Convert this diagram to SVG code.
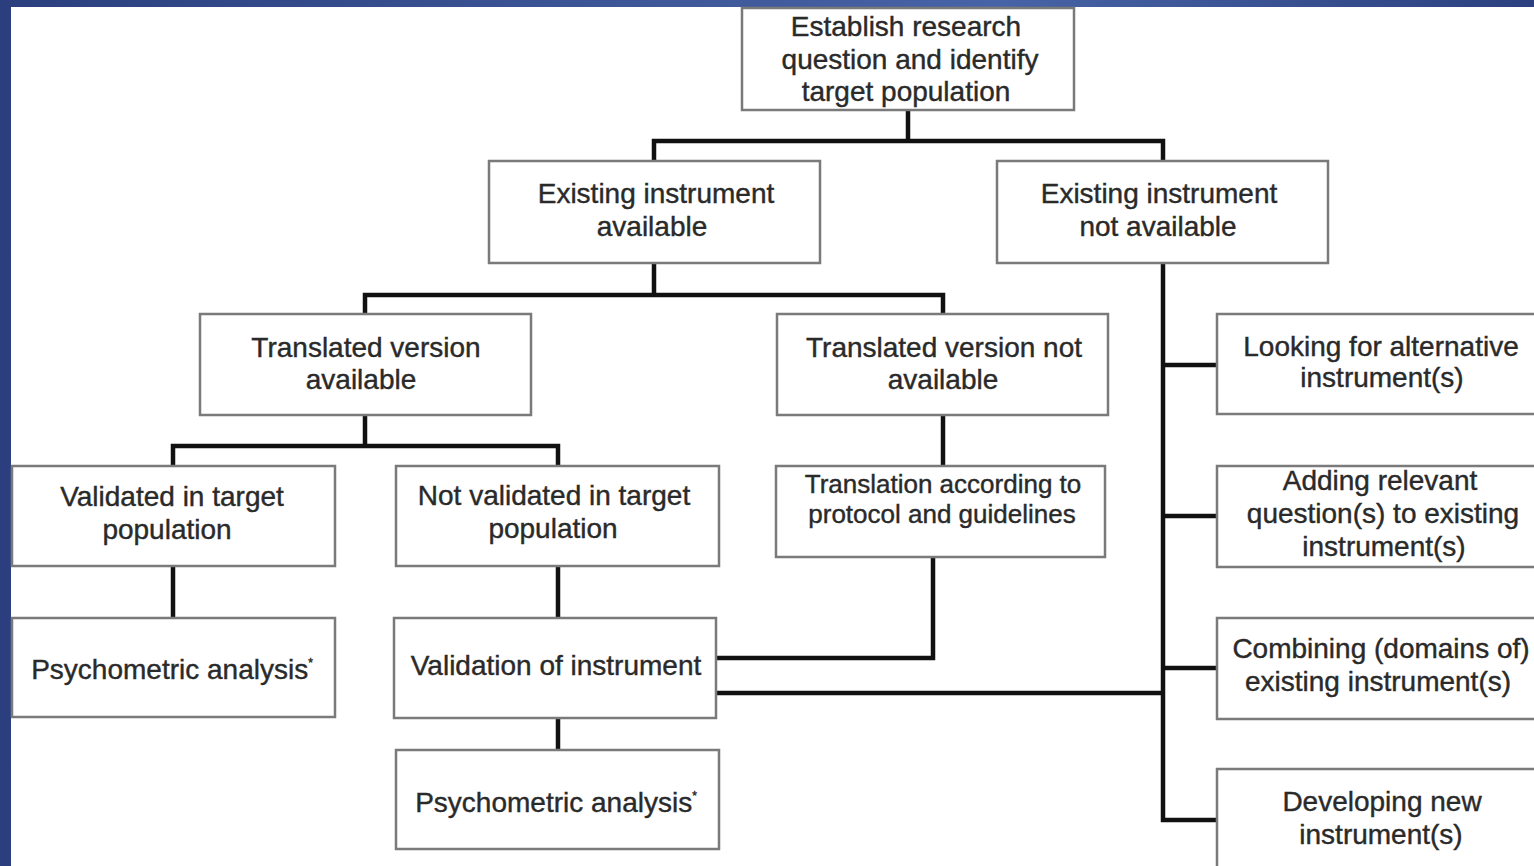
<svg xmlns="http://www.w3.org/2000/svg" width="1534" height="866" viewBox="0 0 1534 866">
<defs>
<linearGradient id="bg" x1="0" y1="0" x2="1" y2="0">
<stop offset="0" stop-color="#2b3f7e"/>
<stop offset="0.65" stop-color="#4764a6"/>
<stop offset="1" stop-color="#2c407f"/>
</linearGradient>
<style>
.box{fill:#fff;stroke:#7a7a7a;stroke-width:2.5}
.t{font-family:"Liberation Sans",Arial,sans-serif;font-size:28px;fill:#2a2a2a;stroke:#2a2a2a;stroke-width:0.4;text-anchor:middle}
.s{font-size:26px}
.c{fill:none;stroke:#111;stroke-width:4.5;stroke-linejoin:miter}
</style>
</defs>
<rect x="0" y="0" width="1534" height="866" fill="url(#bg)"/>
<rect x="11" y="7" width="1523" height="859" fill="#fff"/>
<g id="connectors">
<path class="c" d="M908 110V141M654 161V141H1163V161"/>
<path class="c" d="M654 263V295M365 314V295H943V314"/>
<path class="c" d="M365 415V446M173 466V446H558V466"/>
<path class="c" d="M943 415V466"/>
<path class="c" d="M173 566V618M558 566V618M558 718V750"/>
<path class="c" d="M933 557V658H716"/>
<path class="c" d="M1163 263V820H1217M1163 365H1217M1163 516H1217M1163 668H1217M716 693H1163"/>
</g>
<g id="n-top"><rect class="box" x="742" y="8" width="332" height="102"/>
<text class="t" x="906" y="36">Establish research</text><text class="t" x="910" y="69">question and identify</text><text class="t" x="906" y="101">target population</text></g>
<g id="n-exist"><rect class="box" x="489" y="161" width="331" height="102"/>
<text class="t" x="656" y="203">Existing instrument</text><text class="t" x="652" y="236">available</text></g>
<g id="n-notexist"><rect class="box" x="997" y="161" width="331" height="102"/>
<text class="t" x="1159" y="203">Existing instrument</text><text class="t" x="1158" y="236">not available</text></g>
<g id="n-trans"><rect class="box" x="200" y="314" width="331" height="101"/>
<text class="t" x="366" y="357">Translated version</text><text class="t" x="361" y="389">available</text></g>
<g id="n-notrans"><rect class="box" x="777" y="314" width="331" height="101"/>
<text class="t" x="944" y="357">Translated version not</text><text class="t" x="943" y="389">available</text></g>
<g id="n-valid"><rect class="box" x="12" y="466" width="323" height="100"/>
<text class="t" x="172" y="506">Validated in target</text><text class="t" x="167" y="539">population</text></g>
<g id="n-notvalid"><rect class="box" x="396" y="466" width="323" height="100"/>
<text class="t" x="554" y="505">Not validated in target</text><text class="t" x="553" y="538">population</text></g>
<g id="n-translation"><rect class="box" x="776" y="466" width="329" height="91"/>
<text class="t s" x="943" y="493">Translation according to</text><text class="t s" x="942" y="523">protocol and guidelines</text></g>
<g id="n-psy1"><rect class="box" x="12" y="618" width="323" height="99"/>
<text class="t" x="172" y="679">Psychometric analysis<tspan font-size="12" dy="-12">*</tspan></text></g>
<g id="n-validation"><rect class="box" x="394" y="618" width="322" height="100"/>
<text class="t" x="556" y="675">Validation of instrument</text></g>
<g id="n-psy2"><rect class="box" x="396" y="750" width="323" height="99"/>
<text class="t" x="556" y="812">Psychometric analysis<tspan font-size="12" dy="-12">*</tspan></text></g>
<g id="n-alt"><rect class="box" x="1217" y="314" width="330" height="100"/>
<text class="t" x="1381" y="356">Looking for alternative</text><text class="t" x="1382" y="387">instrument(s)</text></g>
<g id="n-add"><rect class="box" x="1217" y="466" width="330" height="101"/>
<text class="t" x="1380" y="490">Adding relevant</text><text class="t" x="1383" y="523">question(s) to existing</text><text class="t" x="1384" y="556">instrument(s)</text></g>
<g id="n-comb"><rect class="box" x="1217" y="618" width="330" height="101"/>
<text class="t" x="1381" y="658">Combining (domains of)</text><text class="t" x="1378" y="691">existing instrument(s)</text></g>
<g id="n-dev"><rect class="box" x="1217" y="769" width="330" height="110"/>
<text class="t" x="1382" y="811">Developing new</text><text class="t" x="1381" y="844">instrument(s)</text></g>
</svg>
